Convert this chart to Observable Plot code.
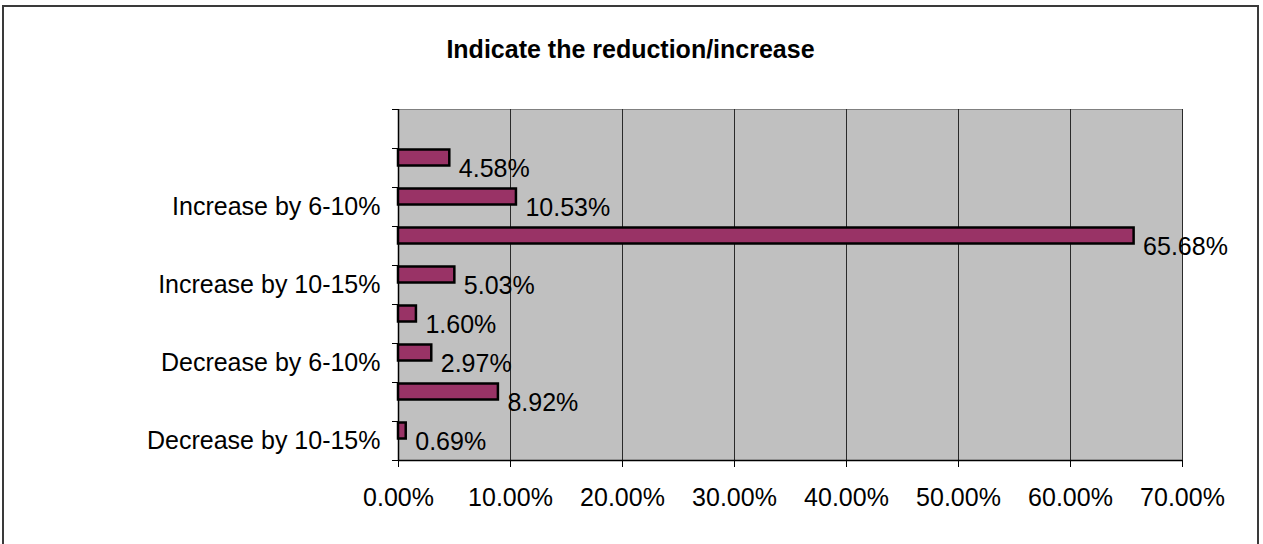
<!DOCTYPE html>
<html>
<head>
<meta charset="utf-8">
<script src="https://cdn.jsdelivr.net/npm/d3@7"></script>
<script src="https://cdn.jsdelivr.net/npm/@observablehq/plot@0.6"></script>
<style>
  body { margin: 0; background: #fff; }
  #wrap { position: relative; width: 1263px; height: 544px; overflow: hidden; font-family: Arial, "Liberation Sans", sans-serif; }
  #border { position: absolute; left: 2px; top: 5px; width: 1253px; height: 560px; border: 2px solid #3a3a3a; pointer-events: none; }
  #title { position: absolute; left: 3px; width: 1255px; top: 37px; text-align: center; font-weight: bold; font-size: 25px; line-height: 25px; color: #000; }
  #chart { position: absolute; left: 0; top: 0; }
</style>
</head>
<body>
<div id="wrap">
  <div id="chart"></div>
  <div id="border"></div>
  <div id="title">Indicate the reduction/increase</div>
</div>
<script>
// Category tick labels, top to bottom (only every other label is shown in the original)
const tickLabels = ["", "", "Increase by 6-10%", "", "Increase by 10-15%", "", "Decrease by 6-10%", "", "Decrease by 10-15%"];
// Values (%), top to bottom; the first row is empty
const values = [null, 4.58, 10.53, 65.68, 5.03, 1.60, 2.97, 8.92, 0.69];
// X-axis ticks (%)
const xTicks = [0, 10, 20, 30, 40, 50, 60, 70];

const data = values.map((v, i) => ({i, value: v})).filter(d => d.value != null);
const nRows = tickLabels.length;
const boundaries = d3.range(nRows + 1);
const centers = d3.range(nRows).map(i => i + 0.5);
const pct = d => d.toFixed(2) + "%";

const chart = Plot.plot({
  width: 1263,
  height: 544,
  marginLeft: 398,
  marginRight: 81,
  marginTop: 109,
  marginBottom: 84,
  x: {domain: [0, 70], axis: null},
  y: {domain: [0, nRows], reverse: true, axis: null},
  style: {fontFamily: "Arial, 'Liberation Sans', sans-serif", fontSize: "25px", color: "#000", background: "transparent", overflow: "visible"},
  marks: [
    Plot.frame({fill: "#c0c0c0", stroke: "#808080"}),
    Plot.ruleX(xTicks.slice(1), {stroke: "#2a2a2a", strokeWidth: 1}),
    Plot.axisX({ticks: xTicks, tickSize: 7, tickPadding: 21, tickFormat: pct, fontSize: 25, stroke: "#000", label: null}),
    Plot.axisY({ticks: boundaries, tickSize: 6, tickFormat: () => "", stroke: "#000", label: null}),
    Plot.axisY({ticks: centers, tickSize: 0, tickPadding: 18, fontSize: 25, tickFormat: d => tickLabels[Math.floor(d)], label: null}),
    Plot.ruleX([0], {stroke: "#000", strokeWidth: 1.5}),
    Plot.ruleY([nRows], {stroke: "#000", strokeWidth: 1.5}),
    Plot.rectX(data, {
      x: "value",
      y1: d => d.i,
      y2: d => d.i + 1,
      insetTop: 1.5,
      insetBottom: 21.5,
      fill: "#993366",
      stroke: "#000",
      strokeWidth: 2.5
    }),
    Plot.text(data, {
      x: "value",
      y: d => d.i + 0.5,
      text: d => pct(d.value),
      textAnchor: "start",
      dx: 9,
      dy: 1,
      fontSize: 25,
      fill: "#000"
    })
  ]
});
document.getElementById("chart").appendChild(chart);
</script>
</body>
</html>
